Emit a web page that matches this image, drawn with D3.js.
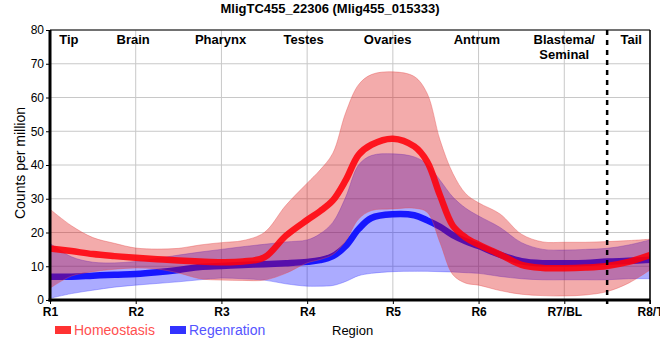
<!DOCTYPE html>
<html><head><meta charset="utf-8">
<script src="https://cdn.jsdelivr.net/npm/d3@7"></script>
<style>body{margin:0;background:#fff}svg{display:block;font-family:Arial,"Liberation Sans",sans-serif}</style>
</head><body>
<svg id="c" width="660" height="360"></svg>
<script>
const title = "MligTC455_22306 (Mlig455_015333)";
const regions = ["R1","R2","R3","R4","R5","R6","R7/BL","R8/T"];
const yTicks = [0,10,20,30,40,50,60,70,80];
const anatomy = ["Tip","Brain","Pharynx","Testes","Ovaries","Antrum","Blastema/|Seminal","Tail"];
const anatomyPos = [0.22,0.97,1.99,2.96,3.94,4.98,6.0,6.78];
const dividerPos = 6.5;
const xs = [0,0.25,0.5,0.75,1,1.25,1.5,1.75,2,2.25,2.5,2.75,3,3.15,3.3,3.45,3.6,3.75,4,4.25,4.4,4.55,4.7,4.85,5,5.25,5.5,5.75,6,6.25,6.5,6.75,7];
const homMean = [15.3,14.5,13.6,13.0,12.5,12.1,11.7,11.4,11.2,11.4,12.6,19.0,23.7,26.3,29.5,35.5,43.0,46.0,47.8,45.5,41.0,31,22,18.5,16.4,13.5,10.4,9.5,9.4,9.6,10.1,11.3,13.3];
const homUpper = [26.9,22,18.5,16.8,15.4,15.1,15.3,16.3,17.0,17.6,20,28,34.6,38.5,43.5,55.5,63.8,66.8,67.6,66.2,61.2,47.4,37.5,31.5,28.8,25.5,19.5,17.2,17.1,17.1,17.3,17.6,18];
const homLower = [3.5,7.1,8.4,9.1,9.5,9.2,8.0,6.3,5.9,5.8,5.9,7.9,11.0,12.0,13.5,17.5,24,26.5,27,27.2,26,17,7.5,5.0,4.4,2.8,1.7,1.3,1.2,1.5,2.5,5.0,8.9];
const regMean = [6.9,6.9,7.2,7.5,7.7,8.2,8.9,9.8,10.1,10.4,10.6,10.9,11.3,11.8,13.0,16.0,21,24.3,25.4,25.1,23.6,21.7,19.2,17.4,16.0,13.4,11.5,10.9,10.9,11.0,11.4,11.6,11.9];
const regUpper = [16.8,12.8,11.2,11.0,11.4,12.3,13.3,14.2,15.0,15.8,16.5,17.2,17.8,19.6,23,30.5,40,42.8,43.3,42.4,40.2,35.5,30.5,27.2,24.9,21.5,17,15.0,14.8,15.0,15.3,16.3,17.8];
const regLower = [0.5,1.9,2.9,3.8,4.4,4.9,5.4,6.0,6.5,6.3,5.9,4.8,4.1,4.1,4.3,5.5,7.2,7.9,8.4,8.5,8.5,8.4,8.3,8.1,7.9,7.0,6.3,6.0,6.0,6.0,6.0,6.3,6.3];
const seriesNames = ["Homeostasis","Regenration"];

const svg = d3.select("#c");
const L=50,R=650,T=30,B=300;
const x = d3.scaleLinear().domain([0,7]).range([L,R]);
const y = d3.scaleLinear().domain([0,80]).range([B,T]);
const curve = d3.curveCatmullRom.alpha(0.5);

svg.append("defs").append("clipPath").attr("id","pc").append("rect")
  .attr("x",L).attr("y",T).attr("width",R-L).attr("height",B-T);

// grid
const g = svg.append("g");
g.selectAll(".gv").data(regions).join("line")
  .attr("x1",(d,i)=>x(i)).attr("x2",(d,i)=>x(i)).attr("y1",T).attr("y2",B)
  .attr("stroke","#c8c8c8").attr("stroke-width",1);
g.selectAll(".gh").data(yTicks).join("line")
  .attr("x1",L).attr("x2",R).attr("y1",d=>y(d)).attr("y2",d=>y(d))
  .attr("stroke","#c8c8c8").attr("stroke-width",1);

const plot = svg.append("g").attr("clip-path","url(#pc)");
const area = (lo,hi)=>d3.area().x((d,i)=>x(xs[i])).y0((d,i)=>y(lo[i])).y1((d,i)=>y(hi[i])).curve(curve);
const line = (m)=>d3.line().x((d,i)=>x(xs[i])).y((d,i)=>y(m[i])).curve(curve);

plot.append("path").attr("d",area(regLower,regUpper)(xs)).attr("fill","rgb(0,0,255)").attr("fill-opacity",0.33)
  .attr("stroke","rgb(80,80,255)").attr("stroke-opacity",0.5).attr("stroke-width",0.8);
plot.append("path").attr("d",line(regMean)(xs)).attr("fill","none").attr("stroke","rgb(10,10,255)").attr("stroke-opacity",0.92).attr("stroke-width",6.5);
plot.append("path").attr("d",area(homLower,homUpper)(xs)).attr("fill","rgb(220,0,0)").attr("fill-opacity",0.33)
  .attr("stroke","rgb(230,80,80)").attr("stroke-opacity",0.5).attr("stroke-width",0.8);
plot.append("path").attr("d",line(homMean)(xs)).attr("fill","none").attr("stroke","rgb(255,0,10)").attr("stroke-opacity",0.88).attr("stroke-width",6.5);

// divider
svg.append("line").attr("x1",x(dividerPos)).attr("x2",x(dividerPos)).attr("y1",T).attr("y2",B+4)
  .attr("stroke","#000").attr("stroke-width",2.5).attr("stroke-dasharray","5,5");

// borders
svg.append("line").attr("x1",L).attr("x2",R).attr("y1",T).attr("y2",T).attr("stroke","#000").attr("stroke-width",1);
svg.append("line").attr("x1",R).attr("x2",R).attr("y1",T).attr("y2",B+4).attr("stroke","#000").attr("stroke-width",1.5);

// axes
const xAxis = svg.append("g").attr("transform",`translate(0,${B})`)
  .call(d3.axisBottom(x).tickValues(d3.range(regions.length)).tickFormat(i=>regions[i]).tickSize(4).tickPadding(3));
xAxis.select(".domain").attr("stroke-width",3).attr("d",`M${L-1.5},0H${R}`);
xAxis.selectAll("text").attr("font-size",12).attr("font-weight","bold").attr("fill","#000").attr("font-family","Arial, Liberation Sans, sans-serif");
const yAxis = svg.append("g").attr("transform",`translate(${L},0)`)
  .call(d3.axisLeft(y).tickValues(yTicks).tickSize(4).tickPadding(2));
yAxis.select(".domain").attr("stroke-width",3).attr("d",`M0,${T}V${B+1.5}`);
yAxis.selectAll("text").attr("font-size",12).attr("fill","#000").attr("font-family","Arial, Liberation Sans, sans-serif");

// title
svg.append("text").attr("x",330).attr("y",13).attr("text-anchor","middle")
  .attr("font-size",13).attr("font-weight","bold").text(title);

// anatomy labels
anatomy.forEach((a,i)=>{
  const parts=a.split("|");
  const t=svg.append("text").attr("font-size",13).attr("font-weight","bold").attr("text-anchor","middle");
  parts.forEach((p,k)=>t.append("tspan").attr("x",x(anatomyPos[i])).attr("y",44+k*14.5).text(p));
});

// axis titles
svg.append("text").attr("transform","translate(25,163) rotate(-90)").attr("text-anchor","middle")
  .attr("font-size",14).text("Counts per million");
svg.append("text").attr("x",332).attr("y",335).attr("font-size",13).text("Region");

// legend
const legCol = [["rgb(255,50,50)","rgb(255,80,80)"],["rgb(50,50,255)","rgb(85,85,255)"]];
const legX = [55,170];
seriesNames.forEach((n,i)=>{
  svg.append("rect").attr("x",legX[i]).attr("y",326).attr("width",16).attr("height",8).attr("fill",legCol[i][0]);
  svg.append("text").attr("x",legX[i]+19).attr("y",335).attr("font-size",14).attr("fill",legCol[i][1]).text(n);
});
</script>
</body></html>
